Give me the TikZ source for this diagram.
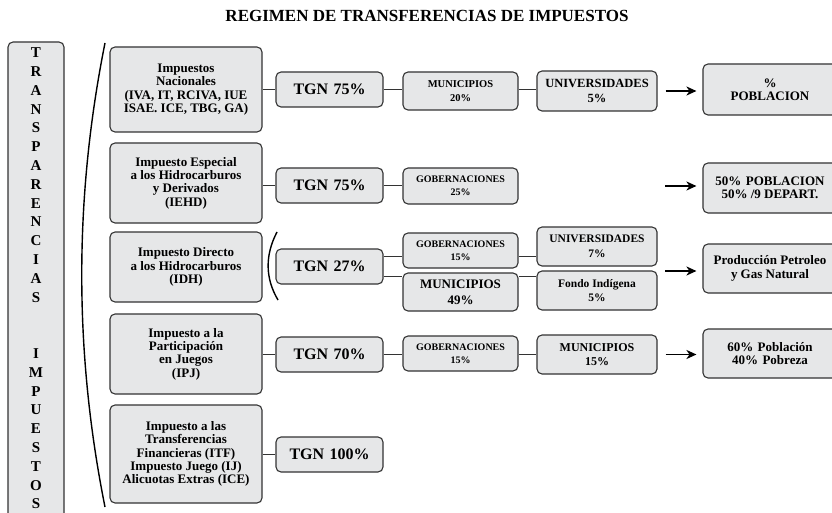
\documentclass[tikz,border=0pt]{standalone}
\usepackage{fontspec}
\setmainfont{Liberation Serif}
\usepackage{tikz}
\usetikzlibrary{arrows.meta,positioning,calc}
\definecolor{cajagris}{HTML}{E6E7E8}
\definecolor{borde}{HTML}{333333}
\tikzset{caja/.style={draw=borde,fill=cajagris,rounded corners=5pt,line width=1.1pt,align=center,inner sep=0pt,font=\bfseries},
  fuente/.style={caja,minimum width=152pt,font=\bfseries\fontsize{13}{13.3}\selectfont},
  tgn/.style={caja,minimum width=107pt,minimum height=35pt,font=\bfseries\fontsize{16}{18}\selectfont},
  medio/.style={caja,minimum width=115pt},
  cuarta/.style={caja,minimum width=120pt},
  destino/.style={caja,minimum width=134pt,font=\bfseries\fontsize{13}{13.5}\selectfont},
  linea/.style={line width=1.1pt,draw=borde},
  flecha/.style={line width=1.8pt,-{Stealth[length=10pt,width=9pt,inset=3pt]},shorten <=8pt,shorten >=6pt},
  llave/.style={line width=1.4pt}}

\begin{document}
\begin{tikzpicture}[x=1pt,y=-1pt]
        \useasboundingbox (0,0) rectangle (832,513);
        \fill[white] (0,0) rectangle (832,513);
        \node[font=\bfseries\fontsize{17}{20}\selectfont] (titulo) at (427,16) {REGIMEN DE TRANSFERENCIAS DE IMPUESTOS};
        % columna vertical
        \node[caja,minimum width=56pt,minimum height=488pt] (trans) at (36,286) {};
        \node[font=\bfseries\fontsize{15}{18.8}\selectfont,align=center] (letras) at (36,278.5)
            {T\\R\\A\\N\\S\\P\\A\\R\\E\\N\\C\\I\\A\\S\\[37.6pt]I\\M\\P\\U\\E\\S\\T\\O\\S};
        \draw[llave] (105,43) .. controls (74,198) and (74,352) .. (105,507);
        % impuestos
        \node[fuente,minimum height=85pt] (imp1) at (186,89.5) {Impuestos\\Nacionales\\(IVA, IT, RCIVA, IUE\\ISAE. ICE, TBG, GA)};
        \node[fuente,minimum height=80pt] (imp2) at (186,183) {Impuesto Especial\\a los Hidrocarburos\\y Derivados\\(IEHD)};
        \node[fuente,minimum height=70pt] (imp3) at (186,267) {Impuesto Directo\\a los Hidrocarburos\\(IDH)};
        \node[fuente,minimum height=80pt] (imp4) at (186,354) {Impuesto a la\\Participación\\en Juegos\\(IPJ)};
        \node[fuente,minimum height=98pt] (imp5) at (186,454) {Impuesto a las\\Transferencias\\Financieras (ITF)\\Impuesto Juego (IJ)\\Alicuotas Extras (ICE)};
        % TGN
        \node[tgn] (tgn1) at (329.5,89.5) {TGN\,\,75\%};
        \node[tgn] (tgn2) at (329.5,185.5) {TGN\,\,75\%};
        \node[tgn] (tgn3) at (329.5,266.5) {TGN\,\,27\%};
        \node[tgn] (tgn4) at (329.5,354.5) {TGN\,\,70\%};
        \node[tgn] (tgn5) at (329.5,454.5) {TGN\,\,100\%};
        \draw[llave] (277,232) .. controls (265,255) and (265,278) .. (278,300);
        % reparto
        \node[medio,minimum height=38pt,font=\bfseries\fontsize{10.5}{14}\selectfont] (mun1) at (460.5,91) {MUNICIPIOS\\20\%};
        \node[medio,minimum height=36pt,font=\bfseries\fontsize{10}{13}\selectfont] (gob2) at (460.5,186) {GOBERNACIONES\\25\%};
        \node[medio,minimum height=35pt,font=\bfseries\fontsize{10}{13}\selectfont] (gob3) at (460.5,250.5) {GOBERNACIONES\\15\%};
        \node[medio,minimum height=38pt,font=\bfseries\fontsize{13}{16}\selectfont] (mun3) at (460.5,292) {MUNICIPIOS\\49\%};
        \node[medio,minimum height=35pt,font=\bfseries\fontsize{10}{13}\selectfont] (gob4) at (460.5,353.5) {GOBERNACIONES\\15\%};
        \node[cuarta,minimum height=40pt,font=\bfseries\fontsize{12.5}{15}\selectfont] (uni1) at (597,91) {UNIVERSIDADES\\5\%};
        \node[cuarta,minimum height=39pt,font=\bfseries\fontsize{11.5}{14.5}\selectfont] (uni3) at (597,246.5) {UNIVERSIDADES\\7\%};
        \node[cuarta,minimum height=39pt,font=\bfseries\fontsize{11.5}{14.5}\selectfont] (fondo3) at (597,290.5) {Fondo Indígena\\5\%};
        \node[cuarta,minimum height=39pt,font=\bfseries\fontsize{12}{13.5}\selectfont] (mun4) at (597,354.5) {MUNICIPIOS\\15\%};
        % destino
        \node[destino,minimum height=51pt] (dest1) at (770,89.5) {\%\\POBLACION};
        \node[destino,minimum height=50pt] (dest2) at (770,188) {50\%\,\,POBLACION\\50\% /9 DEPART.};
        \node[destino,minimum height=49pt] (dest3) at (770,268.5) {Producción Petroleo\\y Gas Natural};
        \node[destino,minimum height=49pt] (dest4) at (770,353.5) {60\%\,\,Población\\40\%\,\,Pobreza};
        \coordinate (f2) at (657,186);
        \coordinate (f3) at (657,271);
        % lineas
        \draw[linea] (imp1.east) -- (tgn1.west);
        \draw[linea] (tgn2.west -| imp2.east) -- (tgn2.west);
        \draw[linea] (tgn4.west -| imp4.east) -- (tgn4.west);
        \draw[linea] (tgn5.west -| imp5.east) -- (tgn5.west);
        \draw[linea] (tgn1.east) -- (tgn1.east -| mun1.west) (tgn1.east -| mun1.east) -- (tgn1.east -| uni1.west);
        \draw[linea] (tgn2.east) -- (tgn2.east -| gob2.west);
        \draw[linea] ([yshift=10pt]tgn3.east) -- ([yshift=10pt]tgn3.east -| gob3.west)
            ([yshift=10pt]tgn3.east -| gob3.east) -- ([yshift=10pt]tgn3.east -| uni3.west);
        \draw[linea] ([yshift=-10pt]tgn3.east) -- ([yshift=-10pt]tgn3.east -| mun3.west)
            ([yshift=-10pt]tgn3.east -| mun3.east) -- ([yshift=-10pt]tgn3.east -| fondo3.west);
        \draw[linea] (tgn4.east) -- (tgn4.east -| gob4.west) (tgn4.east -| gob4.east) -- (tgn4.east -| mun4.west);
        % flechas
        \draw[flecha] (uni1.east) -- (uni1.east -| dest1.west);
        \draw[flecha] (f2) -- (f2 -| dest2.west);
        \draw[flecha] (f3) -- (f3 -| dest3.west);
        \draw[flecha] (mun4.east) -- (mun4.east -| dest4.west);
\end{tikzpicture}
\end{document}
